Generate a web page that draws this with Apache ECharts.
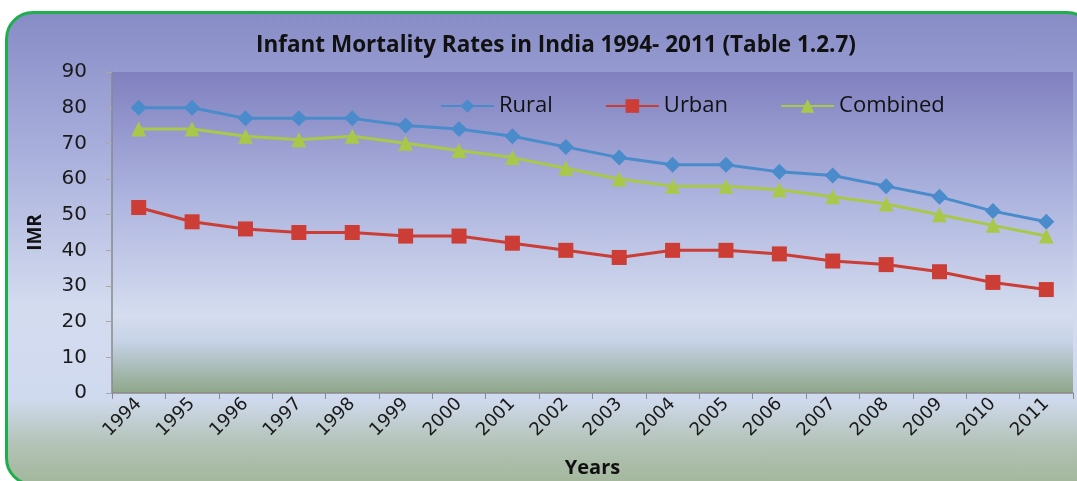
<!DOCTYPE html>
<html>
<head>
<meta charset="utf-8">
<script src="https://cdn.jsdelivr.net/npm/echarts@6/dist/echarts.min.js"></script>
<style>
  html, body { margin: 0; padding: 0; width: 1077px; height: 481px; overflow: hidden; background: #fff; }
  .frame {
    position: absolute; left: 5px; top: 11px; width: 1090px; height: 475px;
    box-sizing: border-box; border: 3px solid #1fae4c; border-radius: 28px;
    background: linear-gradient(to bottom, #878cc6 0%, #a9b0dc 30%, #d3dbef 62%, #d0daee 82%, #b2c2b5 92%, #a3b79c 100%);
  }
  #chart { position: absolute; left: 0; top: 0; width: 1077px; height: 481px; }
</style>
</head>
<body>
<div class="frame"></div>
<div id="chart"></div>
<script>
// values
const years = ["1994", "1995", "1996", "1997", "1998", "1999", "2000", "2001", "2002",
  "2003", "2004", "2005", "2006", "2007", "2008", "2009", "2010", "2011"];
const rural = [80, 80, 77, 77, 77, 75, 74, 72, 69, 66, 64, 64, 62, 61, 58, 55, 51, 48];
const urban = [52, 48, 46, 45, 45, 44, 44, 42, 40, 38, 40, 40, 39, 37, 36, 34, 31, 29];
const combined = [74, 74, 72, 71, 72, 70, 68, 66, 63, 60, 58, 58, 57, 55, 53, 50, 47, 44];

const chart = echarts.init(document.getElementById("chart"));

function lineSeries(name, data, color, symbol, size) {
  return {
    name: name,
    type: "line",
    data: data,
    symbol: symbol,
    symbolSize: size,
    lineStyle: { color: color, width: 3 },
    itemStyle: { color: color },
    emphasis: { disabled: true },
  };
}

const boldName = { fontFamily: "Open Sans", fontWeight: "bold", color: "#111" };

chart.setOption({
  animation: false,
  textStyle: { fontFamily: "DejaVu Sans" },
  title: {
    text: "Infant Mortality Rates in India 1994- 2011 (Table 1.2.7)",
    left: 251,
    top: 29,
    textStyle: Object.assign({ fontSize: 22.5 }, boldName),
  },
  legend: {
    top: 90,
    left: 435,
    itemWidth: 53,
    itemHeight: 17,
    itemGap: 52,
    textStyle: { fontFamily: "Open Sans", fontSize: 22, color: "#111" },
    data: ["Rural", "Urban", "Combined"],
  },
  grid: {
    left: 112,
    right: 4,
    top: 72,
    bottom: 88,
    outerBoundsMode: "none",
    containLabel: false,
    show: true,
    borderWidth: 0,
    backgroundColor: new echarts.graphic.LinearGradient(0, 0, 0, 1, [
      { offset: 0, color: "#8080bf" },
      { offset: 0.4, color: "#aeb5df" },
      { offset: 0.76, color: "#d5ddef" },
      { offset: 0.84, color: "#c6d2e6" },
      { offset: 1, color: "#8ea689" },
    ]),
  },
  xAxis: {
    type: "category",
    data: years,
    boundaryGap: true,
    name: "Years",
    nameLocation: "middle",
    nameGap: 65,
    nameTextStyle: Object.assign({ fontSize: 20 }, boldName),
    axisLine: { lineStyle: { color: "#8a8a8a", width: 1.5 } },
    axisTick: { show: true, interval: 0, length: 6, lineStyle: { color: "#8a8a8a" } },
    axisLabel: { rotate: 45, fontSize: 18, color: "#1a1a1a", margin: 8, interval: 0 },
    splitLine: { show: false },
  },
  yAxis: {
    type: "value",
    min: 0,
    max: 90,
    interval: 10,
    name: "IMR",
    nameLocation: "middle",
    nameRotate: 90,
    nameGap: 67,
    nameTextStyle: Object.assign({ fontSize: 19 }, boldName),
    axisLine: { show: true, lineStyle: { color: "#8a8a8a", width: 1.5 } },
    axisTick: { show: true, length: 6, lineStyle: { color: "#a8a8a8" } },
    axisLabel: { fontSize: 20, color: "#1a1a1a", margin: 25 },
    splitLine: { show: false },
  },
  series: [
    lineSeries("Rural", rural, "#4a8bcb", "diamond", 16),
    lineSeries("Urban", urban, "#cc3d35", "rect", 15),
    lineSeries("Combined", combined, "#a9c84a", "triangle", 15),
  ],
});
</script>
</body>
</html>
